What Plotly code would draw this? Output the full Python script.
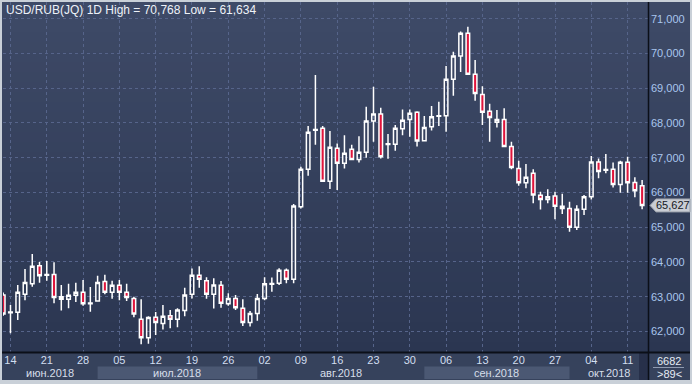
import plotly.graph_objects as go
import pandas as pd

# ---------------- data ----------------
dates = [d.strftime("%Y-%m-%d") for d in pd.bdate_range("2018-06-13", "2018-10-15")]

open_ = [63.05, 62.54, 62.55, 63.07, 63.37, 63.89, 63.62, 63.64, 63.00, 62.93,
         63.04, 63.13, 62.80, 62.88, 63.44, 63.13, 63.33, 63.13, 62.95, 62.35,
         61.82, 62.41, 62.23, 62.45, 62.35, 62.60, 63.07, 63.62, 63.46, 63.07,
         63.33, 62.80, 62.95, 62.67, 62.26, 62.52, 62.95, 63.36, 63.39, 63.76,
         63.50, 65.59, 66.67, 67.79, 67.85, 66.32, 67.27, 66.84, 67.24, 66.95,
         67.16, 68.06, 68.26, 67.38, 67.39, 67.83, 68.10, 68.31, 67.49, 67.89,
         68.19, 68.21, 69.26, 69.93, 70.58, 69.40, 68.82, 68.34, 68.02, 68.10,
         67.32, 66.69, 66.28, 66.55, 65.92, 65.80, 65.90, 65.60, 65.54, 65.00,
         65.52, 65.88, 66.88, 66.64, 66.67, 66.23, 66.87, 66.29, 66.19]
high = [63.12, 62.76, 63.34, 63.80, 64.23, 64.00, 64.03, 63.99, 63.34, 63.37,
        63.40, 63.48, 63.28, 63.60, 63.63, 63.46, 63.48, 63.37, 63.00, 62.93,
        62.44, 62.56, 62.76, 62.62, 62.67, 63.26, 63.81, 63.88, 63.56, 63.53,
        63.45, 63.10, 63.05, 62.93, 62.59, 63.08, 63.56, 63.55, 63.82, 63.81,
        65.67, 66.74, 67.91, 69.38, 67.91, 67.77, 67.41, 67.65, 67.37, 67.62,
        68.47, 69.04, 68.44, 67.68, 67.94, 68.39, 68.39, 68.34, 68.20, 68.49,
        68.61, 69.64, 70.05, 70.63, 70.768, 69.81, 69.06, 68.55, 68.37, 68.42,
        67.46, 66.91, 66.82, 66.67, 66.02, 66.09, 66.02, 65.96, 65.73, 65.63,
        65.93, 67.05, 66.98, 67.11, 66.86, 66.91, 67.03, 66.44, 66.36]
low = [62.45, 61.95, 62.33, 62.90, 63.29, 63.40, 63.46, 62.81, 62.60, 62.67,
       62.85, 62.74, 62.57, 62.86, 63.07, 62.94, 62.90, 62.88, 62.41, 61.634,
       61.65, 61.90, 62.06, 62.09, 62.12, 62.44, 62.95, 63.26, 62.94, 62.66,
       62.68, 62.74, 62.62, 62.16, 62.14, 62.31, 62.90, 63.14, 63.34, 63.39,
       63.39, 65.54, 66.48, 67.37, 66.30, 66.10, 66.07, 66.69, 66.93, 66.86,
       67.00, 67.46, 66.98, 66.97, 67.20, 67.65, 67.60, 67.32, 67.47, 67.78,
       67.91, 67.75, 68.78, 69.47, 69.38, 68.64, 67.94, 67.46, 67.87, 67.30,
       66.67, 66.19, 66.12, 65.69, 65.51, 65.69, 65.23, 65.38, 64.87, 64.92,
       65.35, 65.80, 66.41, 66.55, 66.14, 65.99, 65.99, 65.86, 65.52]
close = [62.50, 62.56, 63.13, 63.41, 63.88, 63.60, 63.64, 62.98, 62.93, 63.04,
         63.13, 62.80, 62.82, 63.41, 63.13, 63.33, 63.13, 62.98, 62.50, 61.82,
         62.40, 62.26, 62.44, 62.35, 62.62, 63.05, 63.62, 63.50, 63.07, 63.34,
         62.81, 62.95, 62.68, 62.26, 62.52, 62.95, 63.37, 63.38, 63.76, 63.50,
         65.61, 66.67, 67.73, 67.81, 66.32, 67.30, 66.84, 67.13, 66.95, 67.16,
         68.06, 68.26, 67.03, 67.40, 67.85, 68.08, 68.28, 67.48, 67.87, 68.18,
         68.21, 69.26, 69.93, 70.58, 69.40, 68.85, 68.31, 68.16, 68.10, 67.32,
         66.72, 66.28, 66.44, 65.93, 65.80, 65.88, 65.60, 65.54, 65.00, 65.52,
         65.88, 66.88, 66.60, 66.66, 66.23, 66.87, 66.28, 66.05, 65.627]

week_tick_dates = ["2018-06-14", "2018-06-21", "2018-06-28", "2018-07-05", "2018-07-12",
                   "2018-07-19", "2018-07-26", "2018-08-02", "2018-08-09", "2018-08-16",
                   "2018-08-23", "2018-08-30", "2018-09-06", "2018-09-13", "2018-09-20",
                   "2018-09-27", "2018-10-04", "2018-10-11"]
week_tick_text = ["14", "21", "28", "05", "12", "19", "26", "02", "09", "16",
                  "23", "30", "06", "13", "20", "27", "04", "11"]
price_ticks = [62, 63, 64, 65, 66, 67, 68, 69, 70, 71]
price_tick_text = ["62,000", "63,000", "64,000", "65,000", "66,000",
                   "67,000", "68,000", "69,000", "70,000", "71,000"]
month_labels = ["июн.2018", "июл.2018", "авг.2018", "сен.2018", "окт.2018"]
month_starts = ["2018-07-02", "2018-08-01", "2018-09-03", "2018-10-01"]
title_text = "USD/RUB(JQ) 1D High = 70,768 Low = 61,634"
last_price_text = "65,627"
volume_text = "6682"
bars_text = ">89<"

# ---------------- layout helpers ----------------
W, H = 692, 384
ML, MR, MT, MB = 3, 44, 2, 32
PW, PH = W - ML - MR, H - MT - MB
X0, X1 = -0.03, 88.81
Y0, Y1 = 61.409, 71.481


def ppx(px):
    return (px - ML) / PW


def ppy(py):
    return (H - MB - py) / PH


def xp(i):
    return (i - X0) / (X1 - X0)


FONT = "Liberation Sans, Arial, sans-serif"

fig = go.Figure()
fig.add_trace(go.Candlestick(
    x=dates, open=open_, high=high, low=low, close=close,
    increasing=dict(line=dict(color="#ffffff", width=1.5), fillcolor="rgba(0,0,0,0)"),
    decreasing=dict(line=dict(color="#ffffff", width=1.5), fillcolor="#e0153c"),
    whiskerwidth=0, hoverinfo="skip", showlegend=False,
))

shapes = []
shapes.append(dict(type="rect", xref="paper", yref="paper", x0=ppx(2), x1=ppx(690),
                   y0=ppy(380), y1=ppy(2), fillcolor="#36425c", line=dict(width=0), layer="below"))
nb = 35
top_c = (62, 74, 103)
bot_c = (43, 54, 81)
for k in range(nb):
    t = k / (nb - 1)
    c = tuple(int(round(top_c[j] + (bot_c[j] - top_c[j]) * t)) for j in range(3))
    ya = 2 + (350 / nb) * k
    yb = 2 + (350 / nb) * (k + 1)
    shapes.append(dict(type="rect", xref="paper", yref="paper", x0=ppx(2), x1=ppx(690),
                       y0=ppy(yb + 0.6), y1=ppy(ya), fillcolor="rgb(%d,%d,%d)" % c,
                       line=dict(width=0), layer="below"))
idx = [dates.index(d) for d in month_starts]
bounds = [X0] + idx + [X1]
for m in range(len(month_labels)):
    if m % 2 == 1:
        shapes.append(dict(type="rect", xref="paper", yref="paper",
                           x0=xp(bounds[m]), x1=xp(bounds[m + 1]),
                           y0=ppy(379), y1=ppy(366.5), fillcolor="#4b5873",
                           line=dict(width=0), layer="below"))
shapes.append(dict(type="rect", xref="paper", yref="paper", x0=ppx(639), x1=ppx(648),
                   y0=ppy(380), y1=ppy(353), fillcolor="#27304a", line=dict(width=0), layer="below"))
shapes.append(dict(type="line", xref="paper", yref="paper", x0=ppx(2), x1=ppx(690),
                   y0=ppy(352.5), y1=ppy(352.5), line=dict(color="#0b0f18", width=2)))
shapes.append(dict(type="line", xref="paper", yref="paper", x0=ppx(648.5), x1=ppx(648.5),
                   y0=ppy(380), y1=ppy(2), line=dict(color="#0b0f18", width=1.5)))
shapes.append(dict(type="line", xref="paper", yref="paper", x0=ppx(653), x1=ppx(684),
                   y0=ppy(367.5), y1=ppy(367.5), line=dict(color="#8e9ab0", width=1)))
last = close[-1]
dy = 6.5 * (Y1 - Y0) / PH
shapes.append(dict(type="path", xref="paper", yref="y",
                   path="M %f,%f L %f,%f L %f,%f L %f,%f L %f,%f Z" % (
                       ppx(650), last, ppx(656), last + dy, ppx(690), last + dy,
                       ppx(690), last - dy, ppx(656), last - dy),
                   fillcolor="#c9cdd4", line=dict(color="#9aa0aa", width=1)))

annotations = []
annotations.append(dict(text=title_text, xref="paper", yref="paper", x=ppx(4), y=ppy(10),
                        xanchor="left", yanchor="middle", showarrow=False,
                        font=dict(family=FONT, size=12, color="#eef2f8")))
for m, lab in enumerate(month_labels):
    cx = (max(bounds[m], X0) + min(bounds[m + 1], X1)) / 2
    annotations.append(dict(text=lab, xref="paper", yref="paper", x=xp(cx), y=ppy(372.5),
                            xanchor="center", yanchor="middle", showarrow=False,
                            font=dict(family=FONT, size=11, color="#d6deea")))
annotations.append(dict(text=last_price_text, xref="paper", yref="y", x=ppx(673), y=last,
                        xanchor="center", yanchor="middle", showarrow=False,
                        font=dict(family=FONT, size=11, color="#15181e")))
annotations.append(dict(text=volume_text, xref="paper", yref="paper", x=ppx(669), y=ppy(360.5),
                        xanchor="center", yanchor="middle", showarrow=False,
                        font=dict(family=FONT, size=11, color="#e6ecf4")))
annotations.append(dict(text=bars_text, xref="paper", yref="paper", x=ppx(669), y=ppy(373.5),
                        xanchor="center", yanchor="middle", showarrow=False,
                        font=dict(family=FONT, size=11, color="#e6ecf4")))

fig.update_layout(
    width=W, height=H,
    margin=dict(l=ML, r=MR, t=MT, b=MB, pad=0, autoexpand=False),
    paper_bgcolor="#c9d0d8",
    plot_bgcolor="rgba(0,0,0,0)",
    showlegend=False,
    shapes=shapes,
    annotations=annotations,
    xaxis=dict(type="category", range=[X0, X1], rangeslider=dict(visible=False),
               automargin=False,
               tickmode="array", tickvals=week_tick_dates, ticktext=week_tick_text,
               showgrid=True, gridcolor="#56648a", griddash="3px,3px", gridwidth=1,
               ticks="", showline=False, zeroline=False, tickangle=0,
               tickfont=dict(family=FONT, size=11, color="#d2def0")),
    yaxis=dict(side="right", range=[Y0, Y1], tickmode="array", tickvals=price_ticks,
               automargin=False,
               ticktext=price_tick_text, showgrid=True, gridcolor="#56648a",
               griddash="3px,3px", gridwidth=1, ticks="", showline=False, zeroline=False,
               ticklabelstandoff=2,
               tickfont=dict(family=FONT, size=11, color="#a9c6ee")),
)

fig.write_html("out.html", config={"displayModeBar": False},
               post_script="document.body.style.margin='0px';document.body.style.overflow='hidden';")
